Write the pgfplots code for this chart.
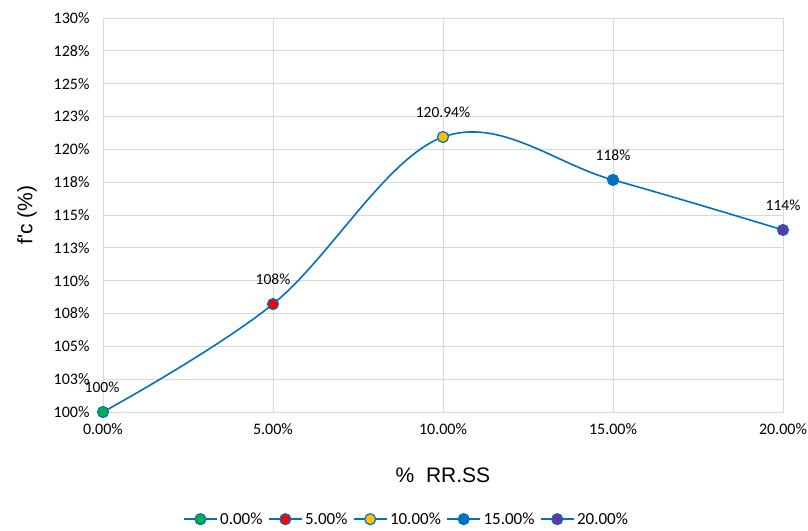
\documentclass[border=0pt]{standalone}
\usepackage{pgfplots}
\pgfplotsset{compat=1.18}
\usepackage{fontspec}
\setmainfont{Carlito}
\newfontfamily\arialf{Liberation Sans}
\definecolor{lblue}{RGB}{0,112,192}
\definecolor{mgreen}{RGB}{0,176,80}
\definecolor{mred}{RGB}{255,0,0}
\definecolor{myellow}{RGB}{255,192,0}
\definecolor{mpurple}{RGB}{112,48,160}
\definecolor{gridc}{RGB}{217,217,217}
\begin{document}
\begin{tikzpicture}
\begin{axis}[
  scale only axis,
  width=680pt, height=394pt,
  xmin=0, xmax=20, ymin=100, ymax=130,
  xtick={0,5,10,15,20},
  xticklabels={0.00\%,5.00\%,10.00\%,15.00\%,20.00\%},
  ytick={100,102.5,105,107.5,110,112.5,115,117.5,120,122.5,125,127.5,130},
  yticklabels={100\%,103\%,105\%,108\%,110\%,113\%,115\%,118\%,120\%,123\%,125\%,128\%,130\%},
  grid=major,
  major grid style={gridc, line width=0.8pt},
  axis line style={gridc, line width=0.8pt},
  major tick length=0pt,
  tick label style={font=\fontsize{16}{19}\selectfont, text=black},
  yticklabel style={xshift=-10pt},
  xticklabel style={yshift=-8pt},
  xlabel={\arialf \%\ \ RR.SS},
  ylabel={\arialf f'c (\%)},
  label style={font=\fontsize{21}{25}\selectfont},
  xlabel style={at={(axis description cs:0.5,-0.16)}, anchor=center},
  ylabel style={at={(axis description cs:-0.112,0.5)}, anchor=center, rotate=0},
  clip=false,
  legend style={at={(0.446,-0.272)}, anchor=center, draw=none, fill=none,
    legend columns=5, font=\fontsize{17}{20}\selectfont,
    /tikz/every even column/.append style={column sep=4pt},
    /tikz/every odd column/.append style={column sep=1pt},
    nodes={inner sep=1.5pt}},
  legend cell align=left,
  legend image code/.code={\draw[mark repeat=2,mark phase=2] plot coordinates {(0pt,0pt) (16.5pt,0pt) (33pt,0pt)};},
  nodes near coords style={font=\fontsize{15.5}{18}\selectfont, text=black, anchor=center, yshift=25pt},
]
\addplot[lblue, line width=1.6pt, smooth, tension=0.6, forget plot] coordinates {
  (0,100) (5,108.22) (10,120.94) (15,117.67) (20,113.86)};
\addplot[lblue, line width=1.6pt, mark=*, mark size=5.5pt, mark options={fill=mgreen, draw=lblue, line width=1.2pt},
  nodes near coords={100\%}, nodes near coords style={xshift=-1pt}] coordinates {(0,100)};
\addlegendentry{0.00\%}
\addplot[lblue, line width=1.6pt, mark=*, mark size=5.5pt, mark options={fill=mred, draw=lblue, line width=1.2pt},
  nodes near coords={108\%}] coordinates {(5,108.22)};
\addlegendentry{5.00\%}
\addplot[lblue, line width=1.6pt, mark=*, mark size=5.5pt, mark options={fill=myellow, draw=lblue, line width=1.2pt},
  nodes near coords={120.94\%}] coordinates {(10,120.94)};
\addlegendentry{10.00\%}
\addplot[lblue, line width=1.6pt, mark=*, mark size=5.5pt, mark options={fill=lblue, draw=lblue, line width=1.2pt},
  nodes near coords={118\%}] coordinates {(15,117.67)};
\addlegendentry{15.00\%}
\addplot[lblue, line width=1.6pt, mark=*, mark size=5.5pt, mark options={fill=mpurple, draw=lblue, line width=1.2pt},
  nodes near coords={114\%}] coordinates {(20,113.86)};
\addlegendentry{20.00\%}
\coordinate (sw) at (rel axis cs:0,0);
\coordinate (ne) at (rel axis cs:1,1);
\end{axis}
\pgfresetboundingbox
\path[use as bounding box] ([xshift=-103pt,yshift=-118pt]sw) rectangle ([xshift=25pt,yshift=18pt]ne);
\end{tikzpicture}
\end{document}
